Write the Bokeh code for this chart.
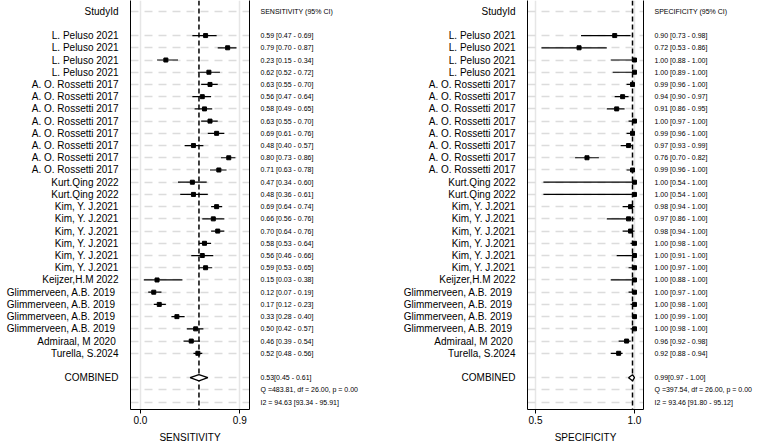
import numpy as np
from bokeh.plotting import figure
from bokeh.layouts import row
from bokeh.models import (Range1d, LinearAxis, FixedTicker, Grid, NumeralTickFormatter)
from bokeh.embed import file_html
from bokeh.resources import INLINE

studies = ["L. Peluso 2021"] * 4 + ["A. O. Rossetti 2017"] * 8 + ["Kurt.Qing 2022"] * 2 + \
          ["Kim, Y. J.2021"] * 6 + ["Keijzer,H.M 2022"] + ["Glimmerveen,  A.B. 2019"] * 4 + \
          ["Admiraal,  M 2020", "Turella, S.2024"]

sens = [0.59, 0.79, 0.23, 0.62, 0.63, 0.56, 0.58, 0.63, 0.69, 0.48, 0.80, 0.71, 0.47, 0.48,
        0.69, 0.66, 0.70, 0.58, 0.56, 0.59, 0.15, 0.12, 0.17, 0.33, 0.50, 0.46, 0.52]
sens_lo = [0.47, 0.70, 0.15, 0.52, 0.55, 0.47, 0.49, 0.55, 0.61, 0.40, 0.73, 0.63, 0.34, 0.36,
           0.64, 0.56, 0.64, 0.53, 0.46, 0.53, 0.03, 0.07, 0.12, 0.28, 0.42, 0.39, 0.48]
sens_hi = [0.69, 0.87, 0.34, 0.72, 0.70, 0.64, 0.65, 0.70, 0.76, 0.57, 0.86, 0.78, 0.60, 0.61,
           0.74, 0.76, 0.76, 0.64, 0.66, 0.65, 0.38, 0.19, 0.23, 0.40, 0.57, 0.54, 0.56]

spec = [0.90, 0.72, 1.00, 1.00, 0.99, 0.94, 0.91, 1.00, 0.99, 0.97, 0.76, 0.99, 1.00, 1.00,
        0.98, 0.97, 0.98, 1.00, 1.00, 1.00, 1.00, 1.00, 1.00, 1.00, 1.00, 0.96, 0.92]
spec_lo = [0.73, 0.53, 0.88, 0.89, 0.96, 0.90, 0.86, 0.97, 0.96, 0.93, 0.70, 0.96, 0.54, 0.54,
           0.94, 0.86, 0.94, 0.98, 0.91, 0.97, 0.88, 0.97, 0.98, 0.99, 0.98, 0.92, 0.88]
spec_hi = [0.98, 0.86, 1.00, 1.00, 1.00, 0.97, 0.95, 1.00, 1.00, 0.99, 0.82, 1.00, 1.00, 1.00,
           1.00, 1.00, 1.00, 1.00, 1.00, 1.00, 1.00, 1.00, 1.00, 1.00, 1.00, 0.98, 0.94]

sens_pooled = (0.53, 0.45, 0.61)
spec_pooled = (0.99, 0.97, 1.00)
sens_q = "Q =483.81, df = 26.00, p =  0.00"
sens_i2 = "I2 = 94.63 [93.34 - 95.91]"
spec_q = "Q =397.54, df = 26.00, p =  0.00"
spec_i2 = "I2 = 93.46 [91.80 - 95.12]"

sens_ticks = [0.0, 0.9]
spec_ticks = [0.5, 1.0]

FONT = "Liberation Sans"
n = len(studies)
rows = list(range(2, 2 + n))
comb_row = n + 3
q_row = comb_row + 1
i2_row = comb_row + 2


def panel(est, lo, hi, pooled, qtxt, i2txt, header, title, ticks, xr, width, bl, br):
    p = figure(width=width, height=445, output_backend="svg", toolbar_location=None,
               x_range=Range1d(*xr), y_range=Range1d(32.6, -0.87),
               min_border_left=bl, min_border_right=br, min_border_top=0, min_border_bottom=36,
               outline_line_color=None, background_fill_color="white", border_fill_color="white")
    p.xgrid.visible = False
    p.ygrid.visible = False
    vg = Grid(dimension=0, ticker=FixedTicker(ticks=ticks), grid_line_color="#e6e6e6",
              grid_line_width=1.5)
    hg = Grid(dimension=1, ticker=FixedTicker(ticks=[0] + rows + [comb_row, q_row, i2_row]),
              grid_line_color="#dcdcdc", grid_line_width=1.5, grid_line_dash="8 6")
    p.add_layout(vg)
    p.add_layout(hg)

    xa = p.xaxis[0]
    xa.ticker = FixedTicker(ticks=ticks)
    xa.formatter = NumeralTickFormatter(format="0.0")
    xa.axis_label = title
    xa.axis_label_text_font = FONT
    xa.axis_label_text_font_style = "normal"
    xa.axis_label_text_font_size = "10px"
    xa.axis_label_text_color = "black"
    xa.axis_label_standoff = 5
    xa.major_label_text_font = FONT
    xa.major_label_text_font_size = "10px"
    xa.major_label_text_color = "black"
    xa.major_label_standoff = 2
    xa.major_tick_out = 4
    xa.major_tick_in = 0
    xa.minor_tick_out = 0
    xa.minor_tick_in = 0
    xa.axis_line_color = "black"
    xa.major_tick_line_color = "black"

    ya = p.yaxis[0]
    ya.ticker = FixedTicker(ticks=[0] + rows + [comb_row])
    ov = {0: "StudyId", comb_row: "COMBINED"}
    for r, s in zip(rows, studies):
        ov[r] = s
    ya.major_label_overrides = ov
    ya.major_label_text_font = FONT
    ya.major_label_text_font_size = "10px"
    ya.major_label_text_color = "black"
    ya.major_label_standoff = 12
    ya.major_tick_out = 0
    ya.major_tick_in = 0
    ya.minor_tick_out = 0
    ya.minor_tick_in = 0
    ya.axis_line_color = "black"

    ra = LinearAxis(ticker=FixedTicker(ticks=[0] + rows + [comb_row, q_row, i2_row]))
    ov2 = {0: header, comb_row: f"{pooled[0]:.2f}[{pooled[1]:.2f} - {pooled[2]:.2f}]",
           q_row: qtxt, i2_row: i2txt}
    for r, e, l, h in zip(rows, est, lo, hi):
        ov2[r] = f"{e:.2f} [{l:.2f} - {h:.2f}]"
    ra.major_label_overrides = ov2
    ra.major_label_text_font = FONT
    ra.major_label_text_font_size = "7px"
    ra.major_label_text_color = "black"
    ra.major_label_standoff = 11
    ra.major_tick_out = 0
    ra.major_tick_in = 0
    ra.minor_tick_out = 0
    ra.minor_tick_in = 0
    ra.axis_line_color = "black"
    p.add_layout(ra, "right")

    p.segment(x0=[pooled[0]], x1=[pooled[0]], y0=[-0.87], y1=[32.6], line_color="black",
              line_width=1.5, line_dash="5 3")

    p.segment(x0=lo, x1=hi, y0=rows, y1=rows, line_color="black", line_width=1.2)
    p.scatter(x=est, y=rows, marker="square", size=4, fill_color="black", line_color="black")

    d = 0.25
    p.patch(x=[pooled[1], pooled[0], pooled[2], pooled[0]],
            y=[comb_row, comb_row - d, comb_row, comb_row + d],
            fill_color="white", line_color="black", line_width=1.3)
    return p


p1 = panel(sens, sens_lo, sens_hi, sens_pooled, sens_q, sens_i2, "SENSITIVITY (95% CI)",
           "SENSITIVITY", sens_ticks, (-0.0906, 0.988), 383, 130, 134)
p2 = panel(spec, spec_lo, spec_hi, spec_pooled, spec_q, spec_i2, "SPECIFICITY (95% CI)",
           "SPECIFICITY", spec_ticks, (0.4596, 1.0455), 384, 144, 124)

lay = row(p1, p2, spacing=0)
open("out.html", "w").write(file_html(lay, INLINE))
